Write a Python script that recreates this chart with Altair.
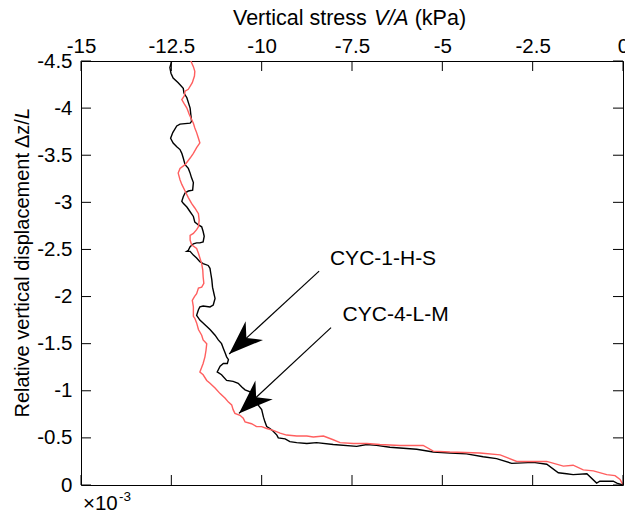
import altair as alt
import pandas as pd

# ---- data (x: vertical stress kPa, y: rel. vertical displacement x1e-3)
black_x = [-12.49, -12.54, -12.51, -12.45, -12.31, -12.17, -12.15, -12.07, -11.98, -11.96,
           -11.94, -11.98, -12.26, -12.35, -12.46, -12.52, -12.45, -12.35, -12.26, -12.21,
           -12.17, -12.12, -12.03, -11.98, -11.94, -11.89, -11.91, -12.03, -12.12, -12.17,
           -12.21, -12.17, -12.07, -11.98, -11.89, -11.85, -11.75, -11.66, -11.62, -11.59,
           -11.62, -11.71, -11.80, -11.89, -11.98, -12.03, -12.07, -11.98, -11.89, -11.80,
           -11.71, -11.62, -11.48, -11.43, -11.41, -11.38, -11.36, -11.32, -11.29, -11.34,
           -11.43, -11.62, -11.71, -11.75, -11.80, -11.71, -11.57, -11.43, -11.29, -11.20,
           -11.11, -11.06, -11.01, -10.97, -10.92, -10.95, -11.06, -11.15, -11.23, -11.11,
           -10.97, -10.79, -10.65, -10.55, -10.46, -10.32, -10.28, -10.18, -10.10, -10.00,
           -9.95, -9.91, -9.86, -9.77, -9.68, -9.58, -9.54, -9.35, -9.22, -9.03,
           -8.75, -8.48, -8.02, -7.37, -7.09, -6.82, -6.45, -5.71, -5.25, -4.79,
           -4.33, -3.87, -3.50, -3.08, -2.48, -2.11, -1.79, -1.56, -1.38, -1.00,
           -0.73, -0.64, -0.27, -0.17, 0.0]
black_y = [-4.50, -4.43, -4.37, -4.32, -4.27, -4.21, -4.16, -4.11, -4.00, -3.93,
           -3.86, -3.84, -3.83, -3.81, -3.74, -3.68, -3.63, -3.59, -3.56, -3.52,
           -3.47, -3.40, -3.36, -3.31, -3.26, -3.21, -3.13, -3.12, -3.10, -3.06,
           -3.01, -2.99, -2.95, -2.90, -2.85, -2.79, -2.76, -2.74, -2.69, -2.64,
           -2.58, -2.57, -2.57, -2.56, -2.53, -2.49, -2.48, -2.48, -2.44, -2.41,
           -2.37, -2.35, -2.33, -2.30, -2.25, -2.18, -2.10, -2.03, -1.98, -1.91,
           -1.89, -1.90, -1.89, -1.86, -1.80, -1.75, -1.70, -1.65, -1.59, -1.54,
           -1.50, -1.45, -1.40, -1.36, -1.33, -1.29, -1.29, -1.26, -1.20, -1.17,
           -1.11, -1.10, -1.08, -1.04, -1.01, -0.99, -0.96, -0.90, -0.85, -0.80,
           -0.72, -0.67, -0.62, -0.60, -0.57, -0.53, -0.50, -0.49, -0.46, -0.45,
           -0.44, -0.45, -0.43, -0.41, -0.43, -0.42, -0.40, -0.38, -0.35, -0.34,
           -0.33, -0.30, -0.28, -0.23, -0.24, -0.22, -0.13, -0.12, -0.11, -0.12,
           -0.02, -0.04, -0.04, -0.02, 0.0]

red_x = [-11.96, -11.89, -11.85, -11.86, -11.92, -12.03, -12.12, -12.14, -12.21, -12.15,
         -12.07, -12.00, -11.94, -11.89, -11.85, -11.80, -11.75, -11.71, -11.80, -11.89,
         -11.98, -12.12, -12.26, -12.31, -12.26, -12.21, -12.12, -12.03, -11.94, -11.85,
         -11.75, -11.73, -11.75, -11.80, -11.89, -11.98, -11.98, -11.94, -11.80, -11.75,
         -11.71, -11.66, -11.63, -11.62, -11.60, -11.66, -11.75, -11.80, -11.86, -11.92,
         -11.89, -11.89, -11.85, -11.80, -11.75, -11.66, -11.62, -11.52, -11.54, -11.57,
         -11.62, -11.71, -11.62, -11.52, -11.43, -11.29, -11.15, -11.01, -10.92, -10.83,
         -10.79, -10.74, -10.60, -10.51, -10.46, -10.28, -10.14, -10.00, -9.86, -9.68,
         -9.49, -9.31, -9.03, -8.75, -8.57, -8.29, -8.02, -7.83, -7.46, -7.09,
         -6.73, -6.17, -5.53, -5.25, -4.79, -3.96, -3.40, -2.94, -2.48, -2.11,
         -1.65, -1.38, -1.10, -0.82, -0.45, -0.22, -0.08, 0.0]
red_y = [-4.50, -4.44, -4.39, -4.34, -4.27, -4.20, -4.18, -4.13, -4.09, -4.05,
         -4.00, -3.93, -3.88, -3.84, -3.79, -3.74, -3.68, -3.63, -3.58, -3.52,
         -3.47, -3.40, -3.36, -3.31, -3.24, -3.19, -3.12, -3.05, -2.99, -2.94,
         -2.88, -2.81, -2.74, -2.71, -2.67, -2.65, -2.60, -2.55, -2.51, -2.46,
         -2.41, -2.35, -2.28, -2.21, -2.14, -2.10, -2.09, -2.03, -2.00, -1.96,
         -1.89, -1.79, -1.77, -1.72, -1.65, -1.59, -1.54, -1.50, -1.43, -1.36,
         -1.29, -1.20, -1.17, -1.11, -1.08, -1.03, -0.97, -0.92, -0.88, -0.85,
         -0.80, -0.76, -0.74, -0.71, -0.67, -0.65, -0.62, -0.62, -0.60, -0.58,
         -0.55, -0.53, -0.52, -0.52, -0.51, -0.52, -0.48, -0.45, -0.44, -0.44,
         -0.43, -0.42, -0.42, -0.36, -0.35, -0.34, -0.32, -0.25, -0.25, -0.25,
         -0.20, -0.21, -0.16, -0.15, -0.11, -0.10, -0.06, 0.0]

x_ticks = [-15, -12.5, -10, -7.5, -5, -2.5, 0]
y_ticks = [0, -0.5, -1, -1.5, -2, -2.5, -3, -3.5, -4, -4.5]

ann_labels = ["CYC-1-H-S", "CYC-4-L-M"]
ann_text_x = [-8.11, -7.76]
ann_text_y = [-2.33, -1.74]
arrow_x0 = [-8.41, -8.08]
arrow_y0 = [-2.27, -1.67]
arrow_x1 = [-10.90, -10.63]
arrow_y1 = [-1.39, -0.76]

FONT = "Liberation Sans"
W, H = 542, 424

xs = alt.Scale(domain=[-15, 0], nice=False, zero=False)
ys = alt.Scale(domain=[-4.5, 0], nice=False, zero=False, reverse=True)

label_expr = "datum.value < 0 ? '-' + format(-datum.value, '') : '0'"

x_axis = alt.Axis(orient="top", values=x_ticks, labelExpr=label_expr, ticks=False, tickSize=0,
                  domain=False, grid=False, labelFont=FONT, labelFontSize=20.5, labelColor="black",
                  labelPadding=5, labelFlush=False, labelOverlap=False, title=None)
y_axis = alt.Axis(orient="left", values=y_ticks, labelExpr=label_expr, ticks=False, tickSize=0,
                  domain=False, grid=False, labelFont=FONT, labelFontSize=20.5, labelColor="black",
                  labelPadding=9, labelFlush=False, labelOverlap=False, title=None)

def X(field):
    return alt.X(field, scale=xs, axis=x_axis)

def Y(field):
    return alt.Y(field, scale=ys, axis=y_axis)

black_df = pd.DataFrame({"x": black_x, "y": black_y, "i": range(len(black_x))})
red_df = pd.DataFrame({"x": red_x, "y": red_y, "i": range(len(red_x))})

black_line = alt.Chart(black_df).mark_line(color="black", strokeWidth=1.4, clip=True).encode(
    x=X("x:Q"), y=Y("y:Q"), order="i:Q")
red_line = alt.Chart(red_df).mark_line(color="#ff5f5f", strokeWidth=1.4, clip=True).encode(
    x=X("x:Q"), y=Y("y:Q"), order="i:Q")

xt = pd.DataFrame({"x": x_ticks})
yt = pd.DataFrame({"y": y_ticks})
tick_style = dict(color="black", strokeWidth=1)
top_ticks = alt.Chart(xt).mark_rule(**tick_style).encode(
    x=X("x:Q"), y=alt.value(0), y2=alt.value(10))
bot_ticks = alt.Chart(xt).mark_rule(**tick_style).encode(
    x=X("x:Q"), y=alt.value(H), y2=alt.value(H - 10))
left_ticks = alt.Chart(yt).mark_rule(**tick_style).encode(
    y=Y("y:Q"), x=alt.value(0), x2=alt.value(10))
right_ticks = alt.Chart(yt).mark_rule(**tick_style).encode(
    y=Y("y:Q"), x=alt.value(W), x2=alt.value(W - 10))

ann_df = pd.DataFrame({"label": ann_labels, "tx": ann_text_x, "ty": ann_text_y,
                       "x0": arrow_x0, "y0": arrow_y0, "x1": arrow_x1, "y1": arrow_y1})
arrow_lines = alt.Chart(ann_df).mark_rule(color="black", strokeWidth=1.2).encode(
    x=X("x0:Q"), y=Y("y0:Q"), x2="x1:Q", y2="y1:Q")
arrow_heads = alt.Chart(ann_df).mark_point(
    shape="M0,0 L1,2.7 L0,1.85 L-1,2.7 Z", filled=True, color="black", opacity=1,
    size=650, angle=227, strokeWidth=0).encode(x=X("x1:Q"), y=Y("y1:Q"))
ann_text = alt.Chart(ann_df).mark_text(align="left", baseline="alphabetic", font=FONT,
                                       fontSize=21, color="black").encode(
    x=X("tx:Q"), y=Y("ty:Q"), text="label:N")

def txt(s, x, y, size, **kw):
    return alt.Chart(pd.DataFrame({"t": [s]})).mark_text(
        font=FONT, fontSize=size, color="black", baseline="alphabetic", **kw).encode(
        x=alt.value(x), y=alt.value(y), text="t:N")

x_title = (txt("Vertical stress", 152, -36, 21.5, align="left")
           + txt("V/A", 293, -36, 21.5, align="left", fontStyle="italic")
           + txt("(kPa)", 333.7, -36, 21.5, align="left"))
y_title = (txt("Relative vertical displacement", -52, 92, 20, align="right", angle=270)
           + txt("\u0394z/", -52, 87, 20, align="left", angle=270)
           + txt("L", -52, 58, 20, align="left", angle=270, fontStyle="italic"))
exponent = (txt("\u00d710", 2, 449, 20.5, align="left")
            + txt("-3", 38, 440, 13.5, align="left"))

chart = alt.layer(
    black_line, red_line, top_ticks, bot_ticks, left_ticks, right_ticks,
    arrow_lines, arrow_heads, ann_text, x_title, y_title, exponent
).properties(
    width=W, height=H,
    autosize=alt.AutoSizeParams(type="none"),
    padding={"left": 81, "top": 61, "right": 2, "bottom": 30},
    background="white",
).configure_view(stroke="black", strokeWidth=1)

chart.save("out.html", embed_options={"renderer": "svg", "actions": False})
